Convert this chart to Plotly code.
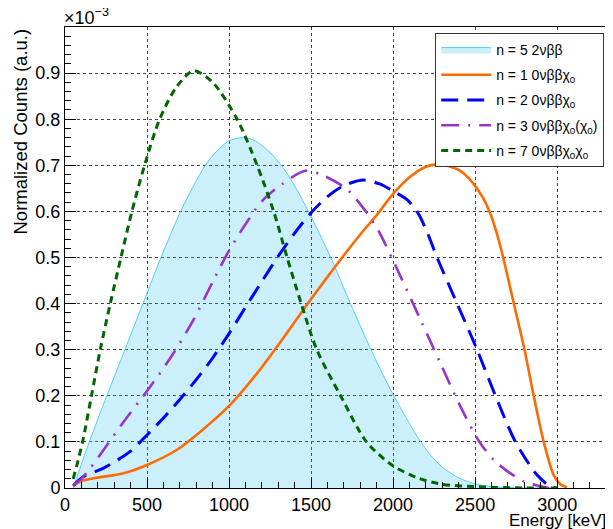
import plotly.graph_objects as go

# ---- data (Normalized Counts in units of 1e-3) ----
e_n5 = [50, 148, 255, 365, 475, 585, 705, 855, 926, 1000, 1079, 1150, 1250, 1333, 1410, 1484,
        1620, 1740, 1865, 1923, 2004, 2080, 2150, 2220, 2300, 2400, 2500, 2600, 2750, 3000]
y_n5 = [0.0, 0.10, 0.20, 0.30, 0.40, 0.50, 0.60, 0.70, 0.731, 0.753, 0.760, 0.755, 0.728, 0.693,
        0.649, 0.600, 0.50, 0.40, 0.30, 0.257, 0.200, 0.152, 0.110, 0.075, 0.045, 0.022, 0.009,
        0.003, 0.0005, 0.0]

e_n1 = [50, 100, 175, 357, 500, 683, 825, 1000, 1100, 1200, 1300, 1400, 1500, 1600, 1700, 1800,
        1900, 2000, 2100, 2200, 2268, 2300, 2350, 2400, 2450, 2500, 2550, 2593, 2630, 2671, 2736,
        2801, 2857, 2918, 2979, 3020, 3060]
y_n1 = [0.005, 0.015, 0.021, 0.032, 0.050, 0.083, 0.122, 0.178, 0.218, 0.262, 0.310, 0.360, 0.410,
        0.458, 0.505, 0.550, 0.592, 0.638, 0.674, 0.697, 0.702, 0.701, 0.697, 0.690, 0.676, 0.655,
        0.628, 0.595, 0.555, 0.500, 0.400, 0.300, 0.200, 0.100, 0.028, 0.008, 0.001]

e_n2 = [50, 113, 235, 400, 500, 600, 700, 800, 900, 1000, 1100, 1200, 1300, 1400, 1500, 1600,
        1700, 1821, 1922, 2000, 2080, 2146, 2210, 2268, 2390, 2512, 2624, 2746, 2878, 2959, 3000]
y_n2 = [0.005, 0.025, 0.043, 0.080, 0.115, 0.152, 0.192, 0.235, 0.282, 0.335, 0.392, 0.448, 0.503,
        0.553, 0.597, 0.632, 0.656, 0.668, 0.659, 0.644, 0.627, 0.60, 0.553, 0.50, 0.40, 0.30,
        0.20, 0.10, 0.028, 0.003, 0.0]

e_n3 = [50, 100, 154, 250, 350, 459, 571, 662, 784, 900, 1000, 1100, 1200, 1323, 1465, 1567, 1719,
        1821, 1912, 2045, 2167, 2288, 2410, 2532, 2634, 2797, 2898, 2950]
y_n3 = [0.005, 0.020, 0.043, 0.090, 0.140, 0.191, 0.245, 0.293, 0.365, 0.447, 0.515, 0.572, 0.622,
        0.659, 0.688, 0.679, 0.648, 0.606, 0.557, 0.459, 0.365, 0.271, 0.177, 0.097, 0.054, 0.014,
        0.004, 0.0]

e_n7 = [50, 80, 113, 164, 215, 276, 341, 408, 485, 577, 680, 784, 900, 1049, 1171, 1272, 1354,
        1440, 1535, 1680, 1838, 2000, 2156, 2300, 2500, 2800, 3000]
y_n7 = [0.020, 0.060, 0.110, 0.205, 0.30, 0.40, 0.50, 0.60, 0.70, 0.80, 0.87, 0.905, 0.88, 0.80,
        0.70, 0.60, 0.50, 0.40, 0.30, 0.20, 0.10, 0.048, 0.021, 0.008, 0.003, 0.0, 0.0]

names = ["n = 5 2νββ",
         "n = 1 0νββχ<sub>0</sub>",
         "n = 2 0νββχ<sub>0</sub>",
         "n = 3 0νββχ<sub>0</sub>(χ<sub>0</sub>)",
         "n = 7 0νββχ<sub>0</sub>χ<sub>0</sub>"]

x_ticks = [0, 500, 1000, 1500, 2000, 2500, 3000]
y_ticks = [0, 0.1, 0.2, 0.3, 0.4, 0.5, 0.6, 0.7, 0.8, 0.9]
y_tick_text = ["0", "0.1", "0.2", "0.3", "0.4", "0.5", "0.6", "0.7", "0.8", "0.9"]

FONT = "Liberation Sans, Arial, sans-serif"
SM = 0.8

fig = go.Figure()
fig.add_trace(go.Scatter(x=e_n5, y=y_n5, mode="lines", name=names[0], legendgroup="a",
                         line=dict(color="#55cdf2", width=1, shape="spline", smoothing=SM),
                         fill="tozeroy", fillcolor="rgba(0,180,235,0.205)"))
fig.add_trace(go.Scatter(x=e_n1, y=y_n1, mode="lines", name=names[1], legendgroup="b",
                         line=dict(color="#ff6a00", width=2.6, shape="spline", smoothing=SM)))
fig.add_trace(go.Scatter(x=e_n2, y=y_n2, mode="lines", name=names[2], legendgroup="c",
                         line=dict(color="#0000ff", width=3, shape="spline", smoothing=SM,
                                   dash="17px,9px")))
fig.add_trace(go.Scatter(x=e_n3, y=y_n3, mode="lines", name=names[3], legendgroup="d",
                         line=dict(color="#9933cc", width=2.6, shape="spline", smoothing=SM,
                                   dash="18px,9px,2px,9px")))
fig.add_trace(go.Scatter(x=e_n7, y=y_n7, mode="lines", name=names[4], legendgroup="e",
                         line=dict(color="#006600", width=3, shape="spline", smoothing=SM,
                                   dash="7px,5px")))

axis_common = dict(showline=True, linecolor="black", linewidth=1, mirror=True,
                   ticks="inside", tickcolor="black", ticklen=11, tickwidth=1,
                   showgrid=True, gridcolor="#444444", griddash="dot", gridwidth=1,
                   zeroline=False, automargin=False,
                   tickfont=dict(family=FONT, size=18, color="black"))

fig.update_xaxes(range=[0, 3310], tickvals=x_ticks,
                 minor=dict(dtick=100, ticks="inside", ticklen=6, tickcolor="black", showgrid=False),
                 **axis_common)
fig.update_yaxes(range=[0, 1.0], tickvals=y_ticks, ticktext=y_tick_text,
                 minor=dict(dtick=0.02, ticks="inside", ticklen=6, tickcolor="black", showgrid=False),
                 **axis_common)

fig.update_layout(
    width=605, height=521,
    margin=dict(l=57, r=5, t=19, b=41),
    paper_bgcolor="white", plot_bgcolor="white",
    showlegend=True,
    legend=dict(x=0.993, y=0.987, xanchor="right", yanchor="top",
                bordercolor="#333333", borderwidth=1, bgcolor="white",
                font=dict(family=FONT, size=14, color="black"),
                itemwidth=50, tracegroupgap=4),
    annotations=[
        dict(text="×10<sup>−3</sup>", xref="paper", yref="paper", x=0.0, y=1.0,
             xanchor="left", yanchor="bottom", showarrow=False, xshift=-3, yshift=-3,
             font=dict(family=FONT, size=18, color="black")),
        dict(text="Normalized Counts (a.u.)", xref="paper", yref="paper", x=0, y=1.0,
             xanchor="right", yanchor="top", textangle=-90, showarrow=False, xshift=-33,
             font=dict(family=FONT, size=18.5, color="black")),
        dict(text="Energy [keV]", xref="paper", yref="paper", x=1.0, y=0,
             xanchor="right", yanchor="top", showarrow=False, yshift=-21,
             font=dict(family=FONT, size=17, color="black")),
    ],
)

fig.write_html("out.html")
